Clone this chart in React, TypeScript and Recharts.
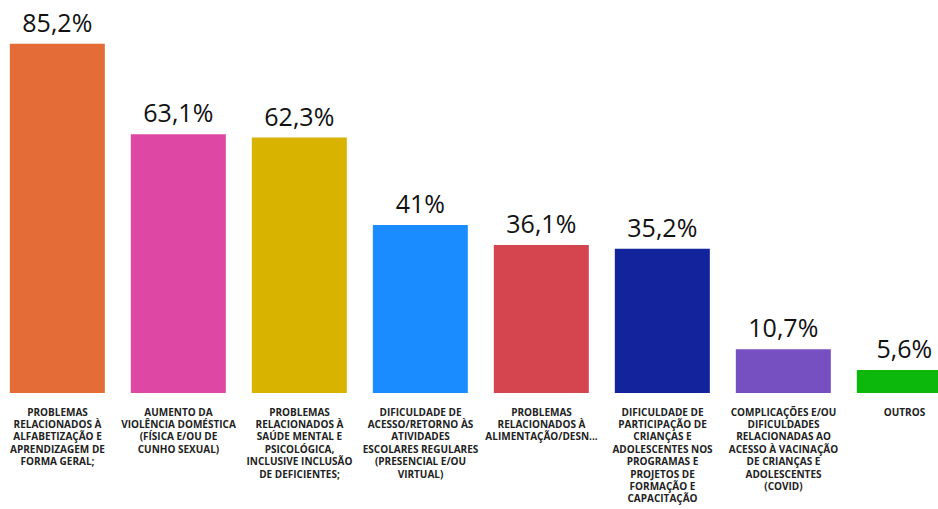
import { Bar, BarChart, Cell, LabelList, XAxis, YAxis } from "recharts";

const categories = [
  "PROBLEMAS RELACIONADOS À ALFABETIZAÇÃO E APRENDIZAGEM DE FORMA GERAL;",
  "AUMENTO DA VIOLÊNCIA DOMÉSTICA (FÍSICA E/OU DE CUNHO SEXUAL)",
  "PROBLEMAS RELACIONADOS À SAÚDE MENTAL E PSICOLÓGICA, INCLUSIVE INCLUSÃO DE DEFICIENTES;",
  "DIFICULDADE DE ACESSO/RETORNO ÀS ATIVIDADES ESCOLARES REGULARES (PRESENCIAL E/OU VIRTUAL)",
  "PROBLEMAS RELACIONADOS À ALIMENTAÇÃO/DESN...",
  "DIFICULDADE DE PARTICIPAÇÃO DE CRIANÇAS E ADOLESCENTES NOS PROGRAMAS E PROJETOS DE FORMAÇÃO E CAPACITAÇÃO",
  "COMPLICAÇÕES E/OU DIFICULDADES RELACIONADAS AO ACESSO À VACINAÇÃO DE CRIANÇAS E ADOLESCENTES (COVID)",
  "OUTROS",
];

// wrapped tick label lines, as they appear under each bar
const tickLines = [
  ["PROBLEMAS", "RELACIONADOS À", "ALFABETIZAÇÃO E", "APRENDIZAGEM DE", "FORMA GERAL;"],
  ["AUMENTO DA", "VIOLÊNCIA DOMÉSTICA", "(FÍSICA E/OU DE", "CUNHO SEXUAL)"],
  ["PROBLEMAS", "RELACIONADOS À", "SAÚDE MENTAL E", "PSICOLÓGICA,", "INCLUSIVE INCLUSÃO", "DE DEFICIENTES;"],
  ["DIFICULDADE DE", "ACESSO/RETORNO ÀS", "ATIVIDADES", "ESCOLARES REGULARES", "(PRESENCIAL E/OU", "VIRTUAL)"],
  ["PROBLEMAS", "RELACIONADOS À", "ALIMENTAÇÃO/DESN..."],
  ["DIFICULDADE DE", "PARTICIPAÇÃO DE", "CRIANÇAS E", "ADOLESCENTES NOS", "PROGRAMAS E", "PROJETOS DE", "FORMAÇÃO E", "CAPACITAÇÃO"],
  ["COMPLICAÇÕES E/OU", "DIFICULDADES", "RELACIONADAS AO", "ACESSO À VACINAÇÃO", "DE CRIANÇAS E", "ADOLESCENTES", "(COVID)"],
  ["OUTROS"],
];

const values = [85.2, 63.1, 62.3, 41, 36.1, 35.2, 10.7, 5.6];

const colors = [
  "#E46C37",
  "#DF47A5",
  "#D8B300",
  "#1A8CFF",
  "#D54550",
  "#13239B",
  "#764FC1",
  "#0DB80D",
];

const data = categories.map((name, i) => ({ name, idx: i, value: values[i] }));

function MultiLineTick({ x, y, payload }: any) {
  const lines = tickLines[payload.index] || [payload.value];
  return (
    <text
      x={x}
      y={y}
      textAnchor="middle"
      fill="#222"
      fontSize={10}
      fontWeight={700}
      fontFamily="'Open Sans', sans-serif"
    >
      {lines.map((line: string, i: number) => (
        <tspan key={i} x={x} dy={i === 0 ? 14.5 : 12.4}>
          {line}
        </tspan>
      ))}
    </text>
  );
}

export default function App() {
  return (
    <div
      style={{
        position: "absolute",
        left: 0,
        top: 0,
        width: 938,
        height: 509,
        overflow: "hidden",
        background: "#fff",
      }}
    >
      <div style={{ marginLeft: -3 }}>
        <BarChart
          width={968}
          height={509}
          data={data}
          margin={{ top: 24, right: 0, bottom: 0, left: 0 }}
          barCategoryGap="10.6%"
        >
          <XAxis
            dataKey="name"
            axisLine={false}
            tickLine={false}
            interval={0}
            height={116}
            tick={<MultiLineTick />}
          />
          <YAxis hide domain={[0, 90]} />
          <Bar dataKey="value" isAnimationActive={false}>
            {data.map((d) => (
              <Cell key={d.idx} fill={colors[d.idx]} />
            ))}
            <LabelList
              dataKey="value"
              position="top"
              offset={12}
              formatter={(v: any) => `${String(v).replace(".", ",")}%`}
              style={{
                fill: "#111",
                fontSize: 25,
                fontWeight: 500,
                fontFamily: "'Open Sans', sans-serif",
              }}
            />
          </Bar>
        </BarChart>
      </div>
    </div>
  );
}
